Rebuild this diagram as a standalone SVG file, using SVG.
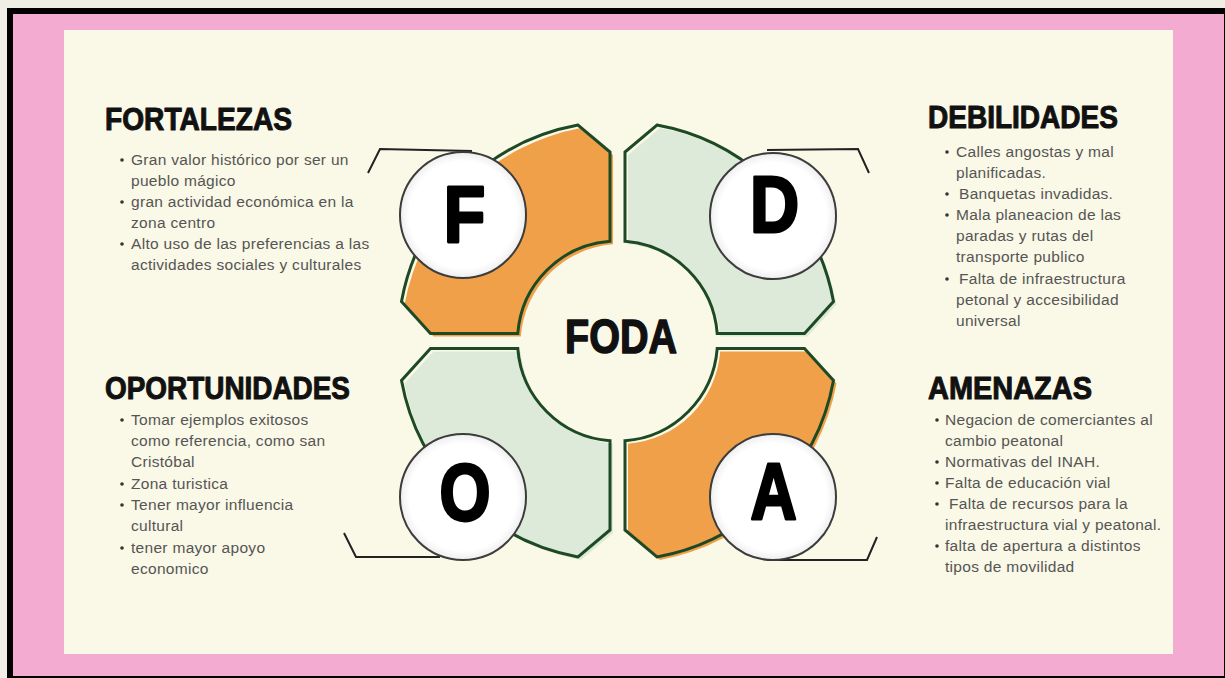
<svg xmlns="http://www.w3.org/2000/svg" width="1225" height="678" viewBox="0 0 1225 678">
<defs>
<style>
.orange{fill:#f0a049}
.green{fill:#dde9d9}
.outline{fill:none;stroke:#1d4a24;stroke-width:3;stroke-linejoin:miter}
.badge{fill:#ffffff;stroke:#3c3c3c;stroke-width:2}
.letter{font-family:"Liberation Sans",Arial,sans-serif;font-weight:bold;font-size:80px;fill:#000;stroke:#000;stroke-width:3;stroke-linejoin:round;text-anchor:middle}
.head{font-family:"Liberation Sans",Arial,sans-serif;font-weight:bold;font-size:31px;fill:#111;stroke:#111;stroke-width:1;stroke-linejoin:round}
.body{font-family:"Liberation Sans",Arial,sans-serif;font-size:15.5px;letter-spacing:0.3px;fill:#555}
.dot{fill:#333}
.bracket{fill:none;stroke:#222;stroke-width:2;stroke-linejoin:miter}
</style>
<radialGradient id="shade" cx="0.5" cy="0.5" r="0.5">
<stop offset="0.85" stop-color="#ffffff"/>
<stop offset="1" stop-color="#eeeeee"/>
</radialGradient>
</defs>
<rect x="0" y="0" width="1225" height="678" fill="#efefe6"/>
<rect x="7" y="8" width="1218" height="670" fill="#000"/>
<rect x="13" y="14" width="1211" height="662" fill="#f3abd1"/>
<rect x="64" y="30" width="1109" height="624" fill="#faf8e6"/>

<g id="connectors">
<path class="bracket" d="M368,173 L380,149 L472,151"/>
<path class="bracket" d="M767,150 L858,149 L869,173"/>
<path class="bracket" d="M344,533 L356,557 L440,557"/>
<path class="bracket" d="M773,560 L867,560 L877,537"/>
</g>

<g id="node-F">
<path class="orange" transform="translate(3,3)" d="M610,241.3 L610,152 L578,125 A219.6,219.6 0 0 0 401.5,301.5 L430.5,333.5 L517.8,333.5 A100,100 0 0 1 610,241.3 Z"/>
<path class="outline" d="M610,241.3 L610,152 L578,125 A219.6,219.6 0 0 0 401.5,301.5 L430.5,333.5 L517.8,333.5 A100,100 0 0 1 610,241.3 Z"/>
<circle class="badge" cx="463" cy="215" r="63" style="fill:url(#shade)"/>
<text class="letter" transform="translate(464.5,242) scale(0.85,1)">F</text>
</g>

<g id="node-D">
<path class="green" transform="translate(3,3)" d="M625,241.3 L625,152 L657,125 A219.6,219.6 0 0 1 833.5,301.5 L804.5,333.5 L717.2,333.5 A100,100 0 0 0 625,241.3 Z"/>
<path class="outline" d="M625,241.3 L625,152 L657,125 A219.6,219.6 0 0 1 833.5,301.5 L804.5,333.5 L717.2,333.5 A100,100 0 0 0 625,241.3 Z"/>
<circle class="badge" cx="773" cy="216" r="63" style="fill:url(#shade)"/>
<text class="letter" transform="translate(774.5,232) scale(0.85,1)">D</text>
</g>

<g id="node-O">
<path class="green" transform="translate(3,3)" d="M610,440.7 L610,530 L578,557 A219.6,219.6 0 0 1 401.5,380.5 L430.5,348.5 L517.8,348.5 A100,100 0 0 0 610,440.7 Z"/>
<path class="outline" d="M610,440.7 L610,530 L578,557 A219.6,219.6 0 0 1 401.5,380.5 L430.5,348.5 L517.8,348.5 A100,100 0 0 0 610,440.7 Z"/>
<circle class="badge" cx="463" cy="497" r="63" style="fill:url(#shade)"/>
<text class="letter" transform="translate(465,520) scale(0.82,1)">O</text>
</g>

<g id="node-A">
<path class="orange" transform="translate(3,3)" d="M625,440.7 L625,530 L657,557 A219.6,219.6 0 0 0 833.5,380.5 L804.5,348.5 L717.2,348.5 A100,100 0 0 1 625,440.7 Z"/>
<path class="outline" d="M625,440.7 L625,530 L657,557 A219.6,219.6 0 0 0 833.5,380.5 L804.5,348.5 L717.2,348.5 A100,100 0 0 1 625,440.7 Z"/>
<circle class="badge" cx="773" cy="497" r="63" style="fill:url(#shade)"/>
<text class="letter" transform="translate(773.5,519) scale(0.8,1)">A</text>
</g>

<g id="center-title">
<text class="head" x="565" y="353" style="font-size:49px;stroke-width:1.5" textLength="112" lengthAdjust="spacingAndGlyphs">FODA</text>
</g>

<g id="fortalezas">
<text class="head" x="105" y="130" textLength="187" lengthAdjust="spacingAndGlyphs">FORTALEZAS</text>
<circle class="dot" cx="122" cy="160" r="1.8"/>
<circle class="dot" cx="122" cy="202" r="1.8"/>
<circle class="dot" cx="122" cy="244" r="1.8"/>
<text class="body" x="131" y="165">Gran valor histórico por ser un</text>
<text class="body" x="131" y="186">pueblo mágico</text>
<text class="body" x="131" y="207">gran actividad económica en la</text>
<text class="body" x="131" y="228">zona centro</text>
<text class="body" x="131" y="249">Alto uso de las preferencias a las</text>
<text class="body" x="131" y="270">actividades sociales y culturales</text>
</g>

<g id="debilidades">
<text class="head" x="928" y="128" textLength="190" lengthAdjust="spacingAndGlyphs">DEBILIDADES</text>
<circle class="dot" cx="947" cy="152" r="1.8"/>
<circle class="dot" cx="947" cy="194" r="1.8"/>
<circle class="dot" cx="947" cy="215" r="1.8"/>
<circle class="dot" cx="947" cy="279" r="1.8"/>
<text class="body" x="956" y="157">Calles angostas y mal</text>
<text class="body" x="956" y="178">planificadas.</text>
<text class="body" x="959" y="199">Banquetas invadidas.</text>
<text class="body" x="956" y="220">Mala planeacion de las</text>
<text class="body" x="956" y="241">paradas y rutas del</text>
<text class="body" x="956" y="262">transporte publico</text>
<text class="body" x="959" y="284">Falta de infraestructura</text>
<text class="body" x="956" y="305">petonal y accesibilidad</text>
<text class="body" x="956" y="326">universal</text>
</g>

<g id="oportunidades">
<text class="head" x="105" y="399" textLength="245" lengthAdjust="spacingAndGlyphs">OPORTUNIDADES</text>
<circle class="dot" cx="122" cy="420" r="1.8"/>
<circle class="dot" cx="122" cy="484" r="1.8"/>
<circle class="dot" cx="122" cy="505" r="1.8"/>
<circle class="dot" cx="122" cy="548" r="1.8"/>
<text class="body" x="131" y="425">Tomar ejemplos exitosos</text>
<text class="body" x="131" y="446">como referencia, como san</text>
<text class="body" x="131" y="467">Cristóbal</text>
<text class="body" x="131" y="489">Zona turistica</text>
<text class="body" x="131" y="510">Tener mayor influencia</text>
<text class="body" x="131" y="531">cultural</text>
<text class="body" x="131" y="553">tener mayor apoyo</text>
<text class="body" x="131" y="574">economico</text>
</g>

<g id="amenazas">
<text class="head" x="928" y="399" textLength="164" lengthAdjust="spacingAndGlyphs">AMENAZAS</text>
<circle class="dot" cx="937" cy="420" r="1.8"/>
<circle class="dot" cx="937" cy="462" r="1.8"/>
<circle class="dot" cx="937" cy="483" r="1.8"/>
<circle class="dot" cx="937" cy="504" r="1.8"/>
<circle class="dot" cx="937" cy="546" r="1.8"/>
<text class="body" x="945" y="425">Negacion de comerciantes al</text>
<text class="body" x="945" y="446">cambio peatonal</text>
<text class="body" x="945" y="467">Normativas del INAH.</text>
<text class="body" x="945" y="488">Falta de educación vial</text>
<text class="body" x="949" y="509">Falta de recursos para la</text>
<text class="body" x="945" y="530">infraestructura vial y peatonal.</text>
<text class="body" x="945" y="551">falta de apertura a distintos</text>
<text class="body" x="945" y="572">tipos de movilidad</text>
</g>
</svg>
